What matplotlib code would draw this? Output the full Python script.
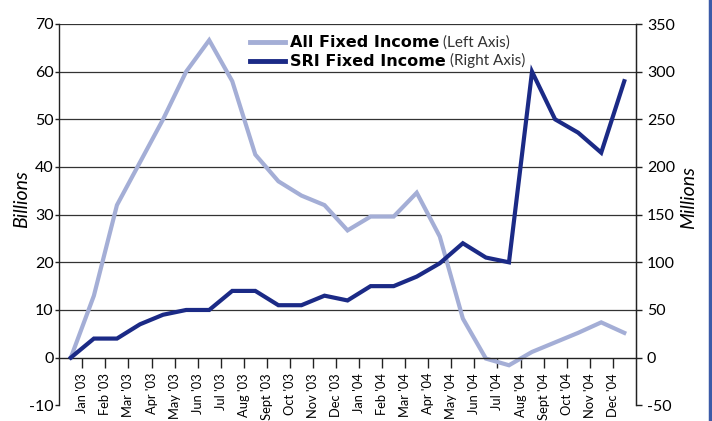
"""
All Fixed Income vs SRI Fixed Income, 2003 - 2004
"""

import matplotlib
matplotlib.use("Agg")
import matplotlib.pyplot as plt
from matplotlib.lines import Line2D

plt.rcParams["font.family"] = ["Lato", "DejaVu Sans"]
plt.rcParams["axes.unicode_minus"] = False

# Month labels sit on the ticks between the points
months = ["Jan '03", "Feb '03", "Mar '03", "Apr '03", "May '03", "Jun '03",
          "Jul '03", "Aug '03", "Sept '03", "Oct '03", "Nov '03", "Dec '03",
          "Jan '04", "Feb '04", "Mar '04", "Apr '04", "May '04", "Jun '04",
          "Jul '04", "Aug '04", "Sept '04", "Oct '04", "Nov '04", "Dec '04"]

# Billions (left axis), 25 points
all_fixed = [0, 13, 32, 41, 50, 60, 66.6, 58, 42.6, 37, 34, 32, 26.7,
             29.6, 29.6, 34.6, 25.4, 8.2, -0.2, -1.6, 1.2, 3.2, 5.2, 7.4, 5.2]

# Millions (right axis), 25 points
sri_fixed = [0, 20, 20, 35, 45, 50, 50, 70, 70, 55, 55, 65, 60,
             75, 75, 85, 99, 120, 105, 100, 300, 250, 236, 215, 290]

light = "#a4aed6"
navy = "#1b2a86"
ink = "#222222"

fig = plt.figure(figsize=(7.12, 4.21), dpi=100)
ax = fig.add_axes([59.3 / 712, 1 - 405.3 / 421, (635.8 - 59.3) / 712, (405.3 - 24) / 421])
ax2 = ax.twinx()

x = list(range(len(all_fixed)))
ax.plot(x, all_fixed, color=light, lw=3.0, solid_joinstyle="miter")
ax2.plot(x, sri_fixed, color=navy, lw=3.0, solid_joinstyle="miter")

ax.set_xlim(-0.5, len(all_fixed) - 0.5)
ax.set_ylim(-10, 70)
ax2.set_ylim(-50, 350)
ax.set_yticks(range(-10, 71, 10))
ax2.set_yticks(range(-50, 351, 50))

# x axis runs along zero
ax.spines["bottom"].set_position(("data", 0))
ax.spines["top"].set_visible(False)
ax2.spines["top"].set_visible(False)
ax2.spines["bottom"].set_visible(False)
ax2.spines["left"].set_visible(False)
for s in ["left", "bottom"]:
    ax.spines[s].set_color(ink)
    ax.spines[s].set_linewidth(1.0)
ax2.spines["right"].set_color(ink)
ax2.spines["right"].set_linewidth(1.0)

ax.set_xticks([i + 0.5 for i in range(len(months))])
ax.set_xticklabels(months, rotation=90, ha="center", va="top", fontsize=9.3)
ax.tick_params(axis="x", direction="out", length=7, width=1, color=ink, pad=4)
ax.tick_params(axis="y", direction="out", length=3, width=1, color=ink, pad=1,
               labelsize=11.5)
ax2.tick_params(axis="y", direction="out", length=4, width=1, color=ink, pad=4,
                labelsize=11.5)

ax.yaxis.grid(True, color="#333333", lw=0.9)
ax.set_axisbelow(True)
for v, g in zip(ax.get_yticks(), ax.get_ygridlines()):
    if v <= 0:
        g.set_visible(False)

ax.set_ylabel("Billions", fontsize=14, style="italic")
ax.yaxis.set_label_coords(-0.05, 0.54)
ax2.set_ylabel("Millions", fontsize=14, style="italic", rotation=90)
ax2.yaxis.set_label_coords(1.077, 0.545)

handles = [Line2D([], [], color=light, lw=3.5), Line2D([], [], color=navy, lw=3.5)]
leg = ax2.legend(handles, ["All Fixed Income", "SRI Fixed Income"],
                 loc="upper left", bbox_to_anchor=(0.32, 0.987), frameon=False,
                 prop={"family": "DejaVu Sans", "weight": "bold", "size": 11.5},
                 handlelength=2.2, handletextpad=0.3, labelspacing=0.25,
                 borderaxespad=0)

# the "(Left Axis)" / "(Right Axis)" notes follow the bold labels
fig.canvas.draw()
notes = ["(Left Axis)", "(Right Axis)"]
inv = fig.transFigure.inverted()
for t, note in zip(leg.get_texts(), notes):
    bb = t.get_window_extent()
    fx, fy = inv.transform((bb.x1 + 4, bb.y0 + 4))
    fig.text(fx, fy, note, ha="left", va="baseline", fontsize=11, color="#333333")

# blue page edge at the right
fig.add_artist(Line2D([709.5 / 712, 709.5 / 712], [0, 1], color="#3b5ba8", lw=2.5,
                      transform=fig.transFigure))

fig.savefig("out.png", dpi=100)
